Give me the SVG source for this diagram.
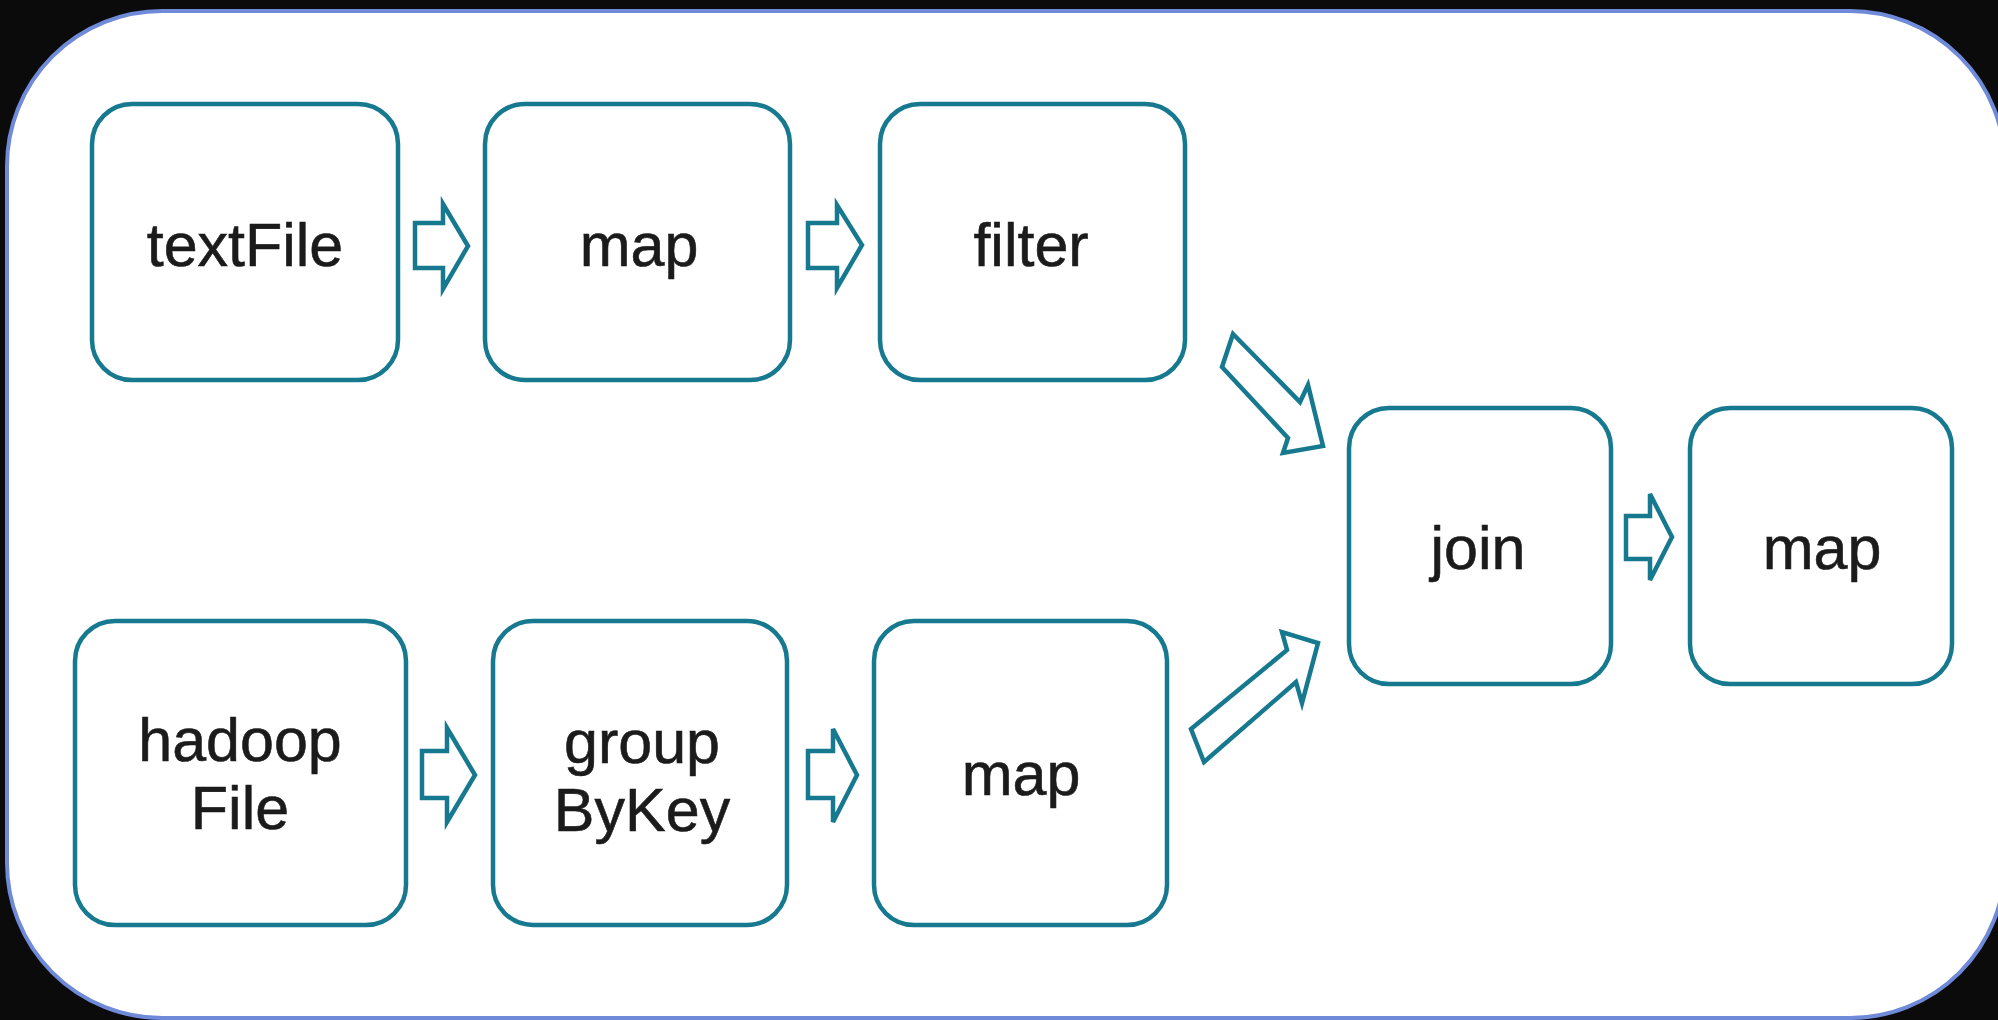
<svg xmlns="http://www.w3.org/2000/svg" width="1998" height="1020" viewBox="0 0 1998 1020">
  <defs>
    <style>
      .node { fill: #ffffff; stroke: #17798f; stroke-width: 4.5; }
      .lbl { font-family: "Liberation Sans", Arial, sans-serif; font-size: 61px; fill: #1b1b1b; text-anchor: middle; stroke: #1b1b1b; stroke-width: 0.6; }
      .arrow { fill: #ffffff; stroke: #17798f; stroke-width: 4.5; stroke-linejoin: miter; }
    </style>
  </defs>
  <rect x="0" y="0" width="1998" height="1020" fill="#0b0b0b"/>
  <rect x="7" y="11" width="1998" height="1007" rx="155" ry="155" fill="#ffffff" stroke="#6f8ad8" stroke-width="4"/>

  <g id="connectors">
    <path class="arrow" d="M415,223 H443 V204 L468,246 L443,289 V268 H415 Z"/>
    <path class="arrow" d="M808,223 H837 V205 L862,245 L837,288 V268 H808 Z"/>
    <path class="arrow" d="M422,751 H447 V728 L475,775 L447,822 V798 H422 Z"/>
    <path class="arrow" d="M808,751 H833 V729 L857,775 L833,822 V798 H808 Z"/>
    <path class="arrow" d="M1626,516 H1650 V494 L1672,537 L1650,580 V559 H1626 Z"/>
    <path class="arrow" d="M1233,334 L1300,402 L1308,385 L1323,446 L1283,453 L1288,438 L1222,367 Z"/>
    <path class="arrow" d="M1191,729 L1287,650 L1282,632 L1318,643 L1302,703 L1296,682 L1204,762 Z"/>
  </g>

  <g id="node-textFile">
    <rect class="node" x="92" y="104" width="306" height="276" rx="40"/>
    <text class="lbl" x="245" y="266">textFile</text>
  </g>
  <g id="node-map1">
    <rect class="node" x="485" y="104" width="305" height="276" rx="40"/>
    <text class="lbl" x="639" y="266">map</text>
  </g>
  <g id="node-filter">
    <rect class="node" x="880" y="104" width="305" height="276" rx="40"/>
    <text class="lbl" x="1031" y="266">filter</text>
  </g>
  <g id="node-hadoopFile">
    <rect class="node" x="75" y="621" width="331" height="304" rx="40"/>
    <text class="lbl" x="240" y="761">hadoop</text>
    <text class="lbl" x="240" y="829">File</text>
  </g>
  <g id="node-groupByKey">
    <rect class="node" x="493" y="621" width="294" height="304" rx="40"/>
    <text class="lbl" x="642" y="763">group</text>
    <text class="lbl" x="642" y="831">ByKey</text>
  </g>
  <g id="node-map2">
    <rect class="node" x="874" y="621" width="293" height="304" rx="40"/>
    <text class="lbl" x="1021" y="795">map</text>
  </g>
  <g id="node-join">
    <rect class="node" x="1349" y="408" width="262" height="276" rx="40"/>
    <text class="lbl" x="1478" y="569">join</text>
  </g>
  <g id="node-map3">
    <rect class="node" x="1690" y="408" width="262" height="276" rx="40"/>
    <text class="lbl" x="1822" y="569">map</text>
  </g>
</svg>
